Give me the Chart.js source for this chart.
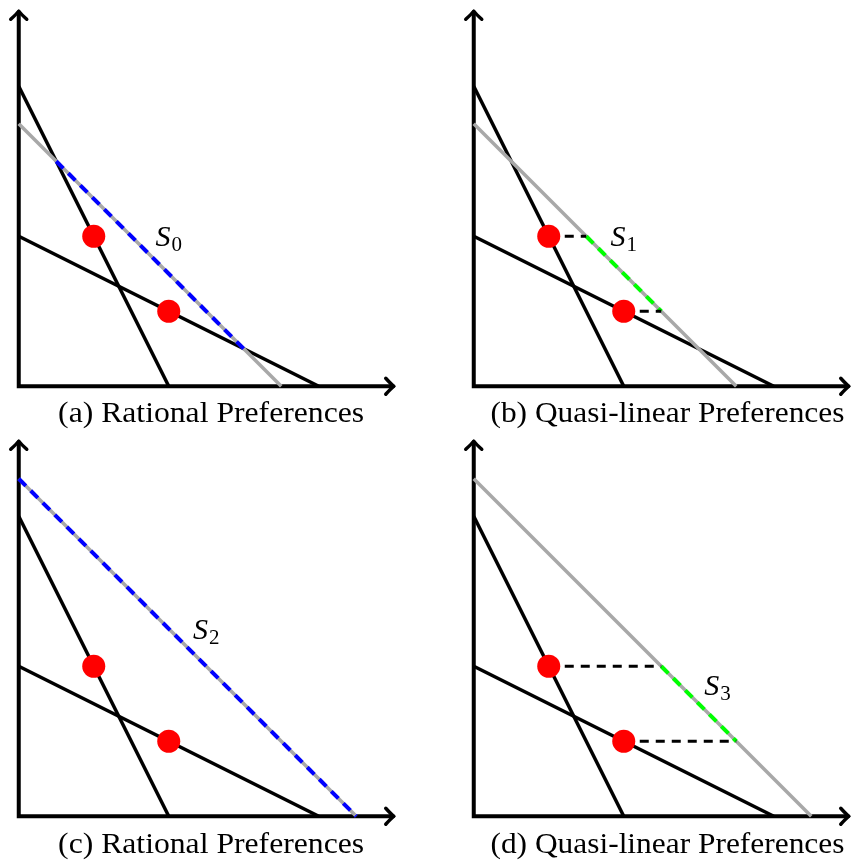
<!DOCTYPE html>
<html>
<head>
<meta charset="utf-8">
<script src="https://cdn.jsdelivr.net/npm/chart.js@4.4.0/dist/chart.umd.min.js"></script>
<style>
html,body{margin:0;padding:0;background:#fff;overflow:hidden;width:857px;height:867px;}
canvas.panel{position:absolute;}
.cap{position:absolute;font-family:"Liberation Serif","Times New Roman",serif;font-size:29px;line-height:29px;white-space:nowrap;color:#000;text-align:center;transform-origin:50% 50%;}
</style>
</head>
<body>
<canvas id="p0" class="panel" width="400" height="405" style="left:0px;top:0px"></canvas>
<canvas id="p1" class="panel" width="400" height="405" style="left:455px;top:0px"></canvas>
<canvas id="p2" class="panel" width="400" height="405" style="left:0px;top:430px"></canvas>
<canvas id="p3" class="panel" width="400" height="405" style="left:455px;top:430px"></canvas>
<div id="cap0" class="cap"></div>
<div id="cap1" class="cap"></div>
<div id="cap2" class="cap"></div>
<div id="cap3" class="cap"></div>
<script>
// ---- data (in plot units) ----
const captions = ['(a) Rational Preferences', '(b) Quasi-linear Preferences', '(c) Rational Preferences', '(d) Quasi-linear Preferences'];
const preferenceType = ['rational', 'quasi', 'rational', 'quasi'];
const steepBudget = [[0, 8], [4, 0]];
const shallowBudget = [[0, 4], [8, 0]];
const choicePoints = [[2, 4], [4, 2]];
const surplusLevel = [7, 7, 9, 9];            // gray line: x + y = S
const surplusIndex = ['0', '1', '2', '3'];
const labelAnchor = [[4, 4], [4, 4], [5, 5], [6.5, 3.5]];
const highlightSegment = [[[1, 6], [6, 1]], [[3, 4], [5, 2]], [[0, 9], [9, 0]], [[5, 4], [7, 2]]];
const guideSegments = [[], [[[2, 4], [3, 4]], [[4, 2], [5, 2]]], [], [[[2, 4], [5, 4]], [[4, 2], [7, 2]]]];
const axisEnd = [10, 10];

// ---- layout / style ----
const captionCenter = [211, 667, 211, 667];
const captionWidth = [306, 354, 306, 354];
const captionBaseline = [422, 422, 853, 853];
const COLORS = {black: '#000000', gray: '#a8a8a8', red: '#ff0000', rational: '#0000ff', quasi: '#00ff00'};
const FONT_PX = 29;

const toXY = arr => arr.map(p => ({x: p[0], y: p[1]}));
function lineDS(points, color, width, dash) {
  return {data: toXY(points), showLine: true, borderColor: color, borderWidth: width,
    borderDash: dash || [], borderCapStyle: 'butt', borderJoinStyle: 'miter',
    pointRadius: 0, pointHoverRadius: 0, fill: false, tension: 0};
}

const arrowPlugin = {
  id: 'axisArrows',
  afterDatasetsDraw(chart) {
    const ctx = chart.ctx, xs = chart.scales.x, ys = chart.scales.y;
    const tips = [
      {x: xs.getPixelForValue(axisEnd[0]), y: ys.getPixelForValue(0), dx: 1, dy: 0},
      {x: xs.getPixelForValue(0), y: ys.getPixelForValue(axisEnd[1]), dx: 0, dy: -1}
    ];
    ctx.save();
    ctx.strokeStyle = COLORS.black; ctx.lineWidth = 3.5; ctx.lineCap = 'round'; ctx.lineJoin = 'round';
    tips.forEach(t => {
      const px = -t.dy, py = t.dx;
      [1, -1].forEach(s => {
        ctx.beginPath();
        ctx.moveTo(t.x - t.dx * 8 + px * 8 * s, t.y - t.dy * 8 + py * 8 * s);
        ctx.quadraticCurveTo(t.x - t.dx * 3 + px * 2.5 * s, t.y - t.dy * 3 + py * 2.5 * s, t.x, t.y);
        ctx.stroke();
      });
    });
    ctx.restore();
  }
};

const labelPlugin = {
  id: 'surplusLabel',
  afterDatasetsDraw(chart, args, opts) {
    const ctx = chart.ctx, xs = chart.scales.x, ys = chart.scales.y;
    const cx = xs.getPixelForValue(opts.anchor[0]), cy = ys.getPixelForValue(opts.anchor[1]);
    ctx.save();
    ctx.fillStyle = COLORS.black;
    ctx.textBaseline = 'alphabetic'; ctx.textAlign = 'left';
    ctx.font = 'italic 30px "Liberation Serif"';
    const wS = ctx.measureText('S').width;
    ctx.font = '21px "Liberation Serif"';
    const wSub = ctx.measureText(opts.sub).width;
    const x0 = cx - (wS + wSub + 1) / 2;
    const base = cy + 10;
    ctx.font = 'italic 30px "Liberation Serif"';
    ctx.fillText('S', x0, base);
    ctx.font = '21px "Liberation Serif"';
    ctx.fillText(opts.sub, x0 + wS + 1, base + 5);
    ctx.restore();
  }
};

for (let i = 0; i < 4; i++) {
  const S = surplusLevel[i];
  const hiColor = preferenceType[i] === 'rational' ? COLORS.rational : COLORS.quasi;
  const datasets = [];
  // top-most first
  datasets.push({data: toXY(choicePoints), showLine: false, pointRadius: 11.5, pointHoverRadius: 11.5,
    pointBackgroundColor: COLORS.red, pointBorderWidth: 0, pointBorderColor: COLORS.red});
  guideSegments[i].forEach(seg => datasets.push(lineDS(seg, COLORS.black, 3.2, [9, 7])));
  datasets.push(lineDS(highlightSegment[i], hiColor, 4, [10, 7]));
  datasets.push(lineDS([[0, S], [S, 0]], COLORS.gray, 3.5));
  datasets.push(lineDS(steepBudget, COLORS.black, 3.5));
  datasets.push(lineDS(shallowBudget, COLORS.black, 3.5));
  datasets.push(lineDS([[0, axisEnd[1]], [0, 0], [axisEnd[0], 0]], COLORS.black, 4));

  new Chart(document.getElementById('p' + i), {
    type: 'scatter',
    data: {datasets},
    options: {
      responsive: false, animation: false, devicePixelRatio: 1, events: [],
      layout: {padding: 0, autoPadding: false},
      plugins: {legend: {display: false}, tooltip: {enabled: false},
        surplusLabel: {anchor: labelAnchor[i], sub: surplusIndex[i]}},
      scales: {
        x: {type: 'linear', min: -0.5, max: -0.5 + 400 / 37.5, display: false},
        y: {type: 'linear', min: -0.5, max: 10.3, display: false}
      }
    },
    plugins: [arrowPlugin, labelPlugin]
  });

  // caption
  const cap = document.getElementById('cap' + i);
  cap.textContent = captions[i];
  const mctx = document.createElement('canvas').getContext('2d');
  mctx.font = FONT_PX + 'px "Liberation Serif"';
  const w = mctx.measureText(captions[i]).width;
  cap.style.width = w + 'px';
  cap.style.left = (captionCenter[i] - w / 2) + 'px';
  cap.style.top = (captionBaseline[i] - 0.8375 * FONT_PX) + 'px';
  cap.style.transform = 'scaleX(' + (captionWidth[i] / w) + ')';
}
</script>
</body>
</html>
